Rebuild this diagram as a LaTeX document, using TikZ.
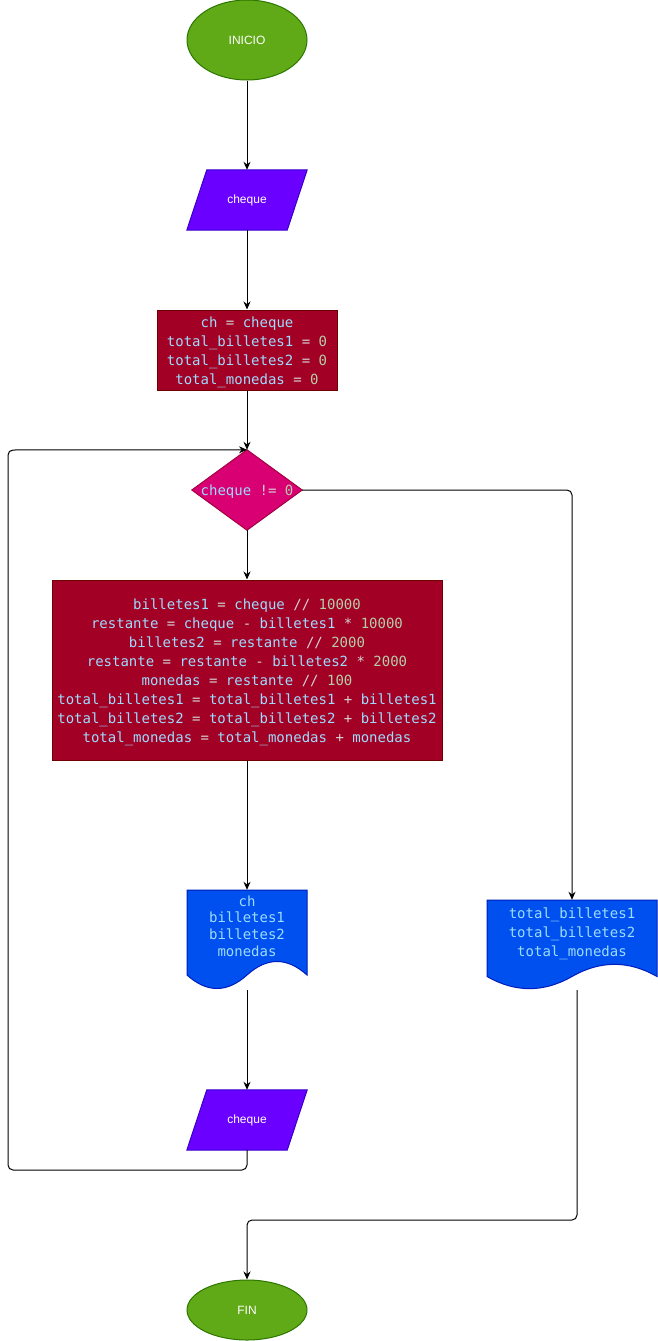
\documentclass[tikz,border=0pt]{standalone}
\usepackage{fontspec}
\setmainfont{Liberation Sans}
\newfontfamily\codefont{DejaVu Sans Mono}
\usetikzlibrary{arrows.meta,backgrounds,shapes.geometric}
\definecolor{grnF}{HTML}{60A917}
\definecolor{grnD}{HTML}{2D7600}
\definecolor{purF}{HTML}{6A00FF}
\definecolor{purD}{HTML}{3700CC}
\definecolor{redF}{HTML}{A20025}
\definecolor{redD}{HTML}{6F0000}
\definecolor{magF}{HTML}{D80073}
\definecolor{magD}{HTML}{A50040}
\definecolor{bluF}{HTML}{0050EF}
\definecolor{bluD}{HTML}{001DBC}
\definecolor{cId}{HTML}{9CDCFE}
\definecolor{cNum}{HTML}{B5CEA8}
\definecolor{cOp}{HTML}{D4D4D4}
\newcommand\tkid[1]{\textcolor{cId}{#1}}
\newcommand\tknum[1]{\textcolor{cNum}{#1}}
\newcommand\tkop[1]{\textcolor{cOp}{#1}}
\begin{document}
\begin{tikzpicture}[x=1pt,y=-1pt,
  lbl/.style={text=white,font=\fontsize{12}{14}\selectfont},
  term/.style={ellipse,draw=grnD,fill=grnF,line width=1pt,minimum width=120pt,minimum height=80pt,inner sep=0pt,lbl},
  io/.style={rectangle,minimum width=120pt,minimum height=60pt,inner sep=0pt,lbl},
  code/.style={font=\codefont\fontsize{14}{19}\selectfont,align=center,text=cId,inner sep=0pt},
  proc/.style={rectangle,draw=redD,fill=redF,line width=1pt,inner sep=0pt},
  dec/.style={rectangle,minimum width=110pt,minimum height=80pt,inner sep=0pt},
  docn/.style={rectangle,inner sep=0pt},
  paraS/.style={fill=purF,draw=purD,line width=1pt},
  decS/.style={fill=magF,draw=magD,line width=1pt},
  docS/.style={fill=bluF,draw=bluD,line width=1pt},
  conn/.style={draw=black,line width=1pt,rounded corners=5pt,-{Stealth[length=8pt,width=7pt]}}]
\useasboundingbox (0,0) rectangle (658,1341);

\node[term] (start) at (247,40) {INICIO};
\node[io] (in1) at (247,200) {cheque};
\node[proc,minimum width=180pt,minimum height=80pt] (init) at (247,350) {};
\node[code] (initT) at (247,352)
  {\tkid{ch} \tkop{=} \tkid{cheque}\\
   \tkid{total\_billetes1} \tkop{=} \tknum{0}\\
   \tkid{total\_billetes2} \tkop{=} \tknum{0}\\
   \tkid{total\_monedas} \tkop{=} \tknum{0}};
\node[dec] (cond) at (247,490) {};
\node[code] (condT) at (247,491.5) {\tkid{cheque} \tkop{!=} \tknum{0}};
\node[proc,minimum width=390pt,minimum height=180pt] (calc) at (247,670) {};
\node[code] (calcT) at (247,672)
  {\tkid{billetes1} \tkop{=} \tkid{cheque} \tkop{//} \tknum{10000}\\
   \tkid{restante} \tkop{=} \tkid{cheque} \tkop{-} \tkid{billetes1} \tkop{*} \tknum{10000}\\
   \tkid{billetes2} \tkop{=} \tkid{restante} \tkop{//} \tknum{2000}\\
   \tkid{restante} \tkop{=} \tkid{restante} \tkop{-} \tkid{billetes2} \tkop{*} \tknum{2000}\\
   \tkid{monedas} \tkop{=} \tkid{restante} \tkop{//} \tknum{100}\\
   \tkid{total\_billetes1} \tkop{=} \tkid{total\_billetes1} \tkop{+} \tkid{billetes1}\\
   \tkid{total\_billetes2} \tkop{=} \tkid{total\_billetes2} \tkop{+} \tkid{billetes2}\\
   \tkid{total\_monedas} \tkop{=} \tkid{total\_monedas} \tkop{+} \tkid{monedas}};
\node[docn,minimum width=120pt,minimum height=100pt] (d1) at (247,940) {};
\node[code,font=\codefont\fontsize{14}{16.7}\selectfont] (d1t) at (247,926)
  {ch\\billetes1\\billetes2\\monedas};
\node[docn,minimum width=170pt,minimum height=90pt] (d2) at (572,945) {};
\node[code] (d2t) at (572,934)
  {total\_billetes1\\total\_billetes2\\total\_monedas};
\node[io] (in2) at (247,1120) {cheque};
\node[term,minimum height=60pt] (fin) at (247,1310) {FIN};

\begin{scope}[on background layer]
  \path[paraS] ([xshift=20pt]in1.north west) -- (in1.north east) -- ([xshift=-20pt]in1.south east) -- (in1.south west) -- cycle;
  \path[paraS] ([xshift=20pt]in2.north west) -- (in2.north east) -- ([xshift=-20pt]in2.south east) -- (in2.south west) -- cycle;
  \path[decS] (cond.north) -- (cond.east) -- (cond.south) -- (cond.west) -- cycle;
  \path[docS] (187,890) -- (307,890) -- (307,975) .. controls (287,957) and (267,957) .. (247,975)
     .. controls (227,993) and (207,993) .. (187,975) -- cycle;
  \path[docS] (487,900) -- (657,900) -- (657,976.5) .. controls (628.67,960.3) and (600.33,960.3) .. (572,976.5)
     .. controls (543.67,992.7) and (515.33,992.7) .. (487,976.5) -- cycle;
\end{scope}

\coordinate (lb) at (8,1170);
\coordinate (lt) at (8,450);
\coordinate (mj) at (577,1220);

\draw[conn] (start.center |- start.south) -- (in1.north);
\draw[conn] (in1.south) -- (init.north);
\draw[conn] (init.south) -- (cond.north);
\draw[conn] (cond.south) -- (calc.north);
\draw[conn] (calc.south) -- (d1.north);
\draw[conn] (d1.south) -- (in2.north);
\draw[conn] (in2.south) |- (lb) -- (lt) -- (cond.north);
\draw[conn] (cond.east) -| (d2.north);
\draw[conn] ([xshift=5pt]d2.south) -- (mj) -| (fin.center |- fin.north);
\end{tikzpicture}
\end{document}
